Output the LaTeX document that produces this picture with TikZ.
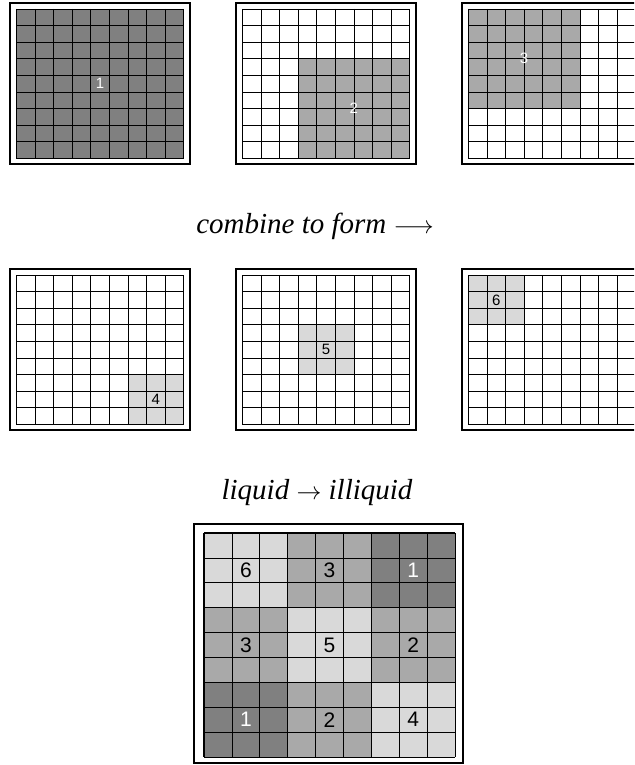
\documentclass[tikz,border=0pt]{standalone}
\usepackage{fontspec}
\setmainfont{Liberation Serif}
\newfontfamily\numfont{Liberation Sans}
\definecolor{darkcell}{HTML}{808080}
\definecolor{midcell}{HTML}{A9A9A9}
\definecolor{lightcell}{HTML}{D9D9D9}
\begin{document}
\begin{tikzpicture}[x=1pt, y=-1pt,
  panelframe/.style={draw, line width=1.2pt},
  cellline/.style={line width=0.8pt},
  blockline/.style={line width=1.2pt},
  numlabel/.style={font=\numfont\fontsize{15}{15}\selectfont, inner sep=0pt},
  biglabel/.style={font=\numfont\fontsize{21}{21}\selectfont, inner sep=0pt},
  caption/.style={font=\itshape\fontsize{29}{33}\selectfont, inner sep=0pt, anchor=base}
]
  \clip (0,0) rectangle (634,765);

  % six small panels, each a 9x9 grid with one shaded block
  \foreach \px/\py/\bc/\br/\bn/\col/\tc/\lab in {10/3/0/0/9/darkcell/white/1, 236/3/3/3/6/midcell/white/2, 462/3/0/0/6/midcell/white/3, 10/269/6/6/3/lightcell/black/4, 236/269/3/3/3/lightcell/black/5, 462/269/0/0/3/lightcell/black/6}{
    \begin{scope}[shift={(\px,\py)}]
      \draw[panelframe] (0,0) rectangle (180,161);
      \fill[\col] ({6.3+\bc*18.6},{6+\br*16.6}) rectangle ++({\bn*18.6},{\bn*16.6});
      \foreach \i in {0,...,9}{
        \draw[cellline] ({6.3+\i*18.6},6) -- ++(0,149.4);
        \draw[cellline] (6.3,{6+\i*16.6}) -- ++(167.4,0);
      }
      \node[numlabel, text=\tc] (lab\lab) at ({6.3+(\bc+\bn/2)*18.6},{6+(\br+\bn/2)*16.6}) {\lab};
    \end{scope}
  }

  \node[caption] (combine) at (315,233) {combine to form $\longrightarrow$};
  \node[caption] (liquid) at (317,499) {liquid $\rightarrow$ illiquid};

  % combined grid
  \begin{scope}[shift={(194,524)}]
    \draw[panelframe] (0,0) rectangle (269,239);
    \foreach \c/\r/\col in {0/0/lightcell, 1/0/midcell, 2/0/darkcell, 0/1/midcell, 1/1/lightcell, 2/1/midcell, 0/2/darkcell, 1/2/midcell, 2/2/lightcell}
      \fill[\col] ({10+\c*83.7},{9+\r*74.7}) rectangle ++(83.7,74.7);
    \foreach \i in {0,...,9}{
      \draw[cellline] ({10+\i*27.9},9) -- ++(0,224.1);
      \draw[cellline] (10,{9+\i*24.9}) -- ++(251.1,0);
    }
    \foreach \i in {0,...,3}{
      \draw[blockline] ({10+\i*83.7},9) -- ++(0,224.1);
      \draw[blockline] (10,{9+\i*74.7}) -- ++(251.1,0);
    }
    \foreach \c/\r/\tc/\lab in {0/0/black/6, 1/0/black/3, 2/0/white/1, 0/1/black/3, 1/1/black/5, 2/1/black/2, 0/2/white/1, 1/2/black/2, 2/2/black/4}
      \node[biglabel, text=\tc] (big\c\r) at ({10+(\c+.5)*83.7},{9+(\r+.5)*74.7}) {\lab};
  \end{scope}
\end{tikzpicture}
\end{document}
